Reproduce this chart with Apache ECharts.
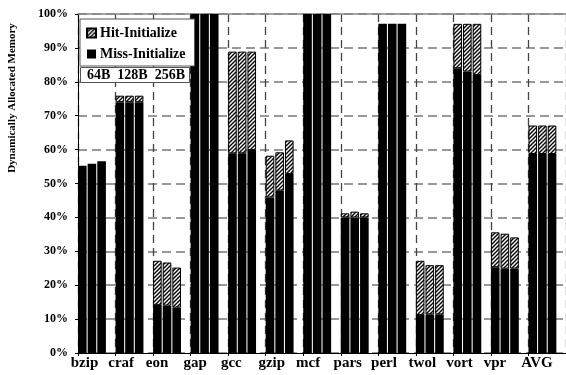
<!DOCTYPE html>
<html>
<head>
<meta charset="utf-8">
<script src="https://cdn.jsdelivr.net/npm/echarts@6/dist/echarts.min.js"></script>
<style>
html,body{margin:0;padding:0;background:#fff;}
#c{width:566px;height:375px;}
</style>
</head>
<body>
<div id="c"></div>
<script>
var categories = ['bzip','craf','eon','gap','gcc','gzip','mcf','pars','perl','twol','vort','vpr','AVG'];
var yTicks = [0,10,20,30,40,50,60,70,80,90,100];
var sizeLabels = ['64B','128B','256B'];
var miss64  = [55.2, 74.0, 14.2, 100, 58.9, 45.9, 100, 40.0, 97.1, 11.2, 84.0, 25.3, 58.7];
var hit64   = [null, 1.9, 13.0, null, 30.0, 12.3, null, 1.2, null, 16.0, 13.1, 10.3, 8.4];
var miss128 = [55.8, 74.0, 14.0, 100, 58.9, 47.9, 100, 40.0, 97.1, 11.4, 83.0, 24.9, 58.7];
var hit128  = [null, 1.9, 12.7, null, 30.0, 11.3, null, 1.7, null, 14.5, 14.1, 10.3, 8.4];
var miss256 = [56.6, 74.0, 13.4, 100, 59.9, 52.8, 100, 40.0, 97.1, 11.4, 82.0, 24.9, 58.7];
var hit256  = [null, 1.9, 11.8, null, 29.0, 9.9, null, 1.2, null, 14.5, 15.1, 9.2, 8.4];

var FONT = 'Liberation Serif';

// hatch pattern
var T = 4;
var pc = document.createElement('canvas');
pc.width = T; pc.height = T;
var g = pc.getContext('2d');
g.fillStyle = '#fff'; g.fillRect(0,0,T,T);
g.strokeStyle = '#000'; g.lineWidth = 1.4;
g.beginPath();
g.moveTo(-1,1); g.lineTo(1,-1);
g.moveTo(0,T); g.lineTo(T,0);
g.moveTo(T-1,T+1); g.lineTo(T+1,T-1);
g.stroke();
var hatch = {image: pc, repeat: 'repeat'};

function missSeries(data, stack){
  return {name:'Miss-Initialize', type:'bar', stack:stack, data:data,
    barGap:'12%', barCategoryGap:0,
    itemStyle:{color:'#000', borderColor:'#000', borderWidth:0},
    emphasis:{disabled:true}, animation:false};
}
function hitSeries(data, stack){
  return {name:'Hit-Initialize', type:'bar', stack:stack, data:data,
    itemStyle:{color:hatch, borderColor:'#000', borderWidth:1},
    emphasis:{disabled:true}, animation:false};
}
var dummy = categories.map(function(){return 0;});

var chart = echarts.init(document.getElementById('c'), null, {renderer:'canvas'});
chart.setOption({
  animation:false,
  backgroundColor:'#fff',
  grid:{left:78, top:14, right:-8.2, bottom:22, containLabel:false},
  legend:{
    data:['Hit-Initialize','Miss-Initialize'],
    orient:'vertical', left:80, top:19,
    padding:[7,9,5,6], itemGap:7, itemWidth:9, itemHeight:9,
    backgroundColor:'#fff', borderColor:'#555', borderWidth:1,
    icon:'rect', selectedMode:false, z:10,
    textStyle:{fontFamily:FONT, fontWeight:'bold', fontSize:14, color:'#000', padding:[0,0,0,-1]}
  },
  xAxis:[{
    type:'category', data:categories, position:'bottom',
    axisLine:{show:true, lineStyle:{color:'#000', width:1}},
    axisTick:{show:true, inside:false, length:3, interval:0, lineStyle:{color:'#000'}},
    splitLine:{show:true, interval:0, lineStyle:{color:'#444', width:1.3, type:[8,5]}},
    axisLabel:{interval:0, margin:3, fontFamily:FONT, fontWeight:'bold', fontSize:15, color:'#000',
      formatter:function(v){return '{a|'+v+'}';},
      rich:{a:{width:52, align:'left', fontFamily:FONT, fontWeight:'bold', fontSize:15, color:'#000'}}}
  },{
    type:'category', data:categories, position:'top',
    axisLine:{show:true, lineStyle:{color:'#888', width:1.5}},
    axisTick:{show:false}, axisLabel:{show:false}, splitLine:{show:false}
  }],
  yAxis:{
    type:'value', min:0, max:100, interval:10,
    axisLine:{show:true, lineStyle:{color:'#000', width:1}},
    axisTick:{show:true, inside:false, length:3, lineStyle:{color:'#000'}},
    splitLine:{show:true, lineStyle:{color:'#777', width:1.6, type:[9,5]}},
    axisLabel:{margin:10, fontFamily:FONT, fontWeight:'bold', fontSize:12, color:'#000',
      formatter:function(v){return yTicks.indexOf(v)>=0 ? v+'%' : '';}}
  },
  graphic:[
    {type:'text', x:12, y:98, rotation:Math.PI/2, z:20,
      style:{text:'Dynamically Allocated Memory', font:'bold 11px "Liberation Serif"', fill:'#000',
        textAlign:'center', textVerticalAlign:'middle'}},
    {type:'rect', z:20, shape:{x:80.5, y:67.5, width:109, height:15},
      style:{fill:'#fff', stroke:'#555', lineWidth:1}},
    {type:'text', x:87, y:75.5, z:21,
      style:{text:sizeLabels.join('  '), font:'bold 14px "Liberation Serif"', fill:'#000',
        textAlign:'left', textVerticalAlign:'middle'}}
  ],
  series:[
    missSeries(miss64,'s1'), hitSeries(hit64,'s1'),
    missSeries(miss128,'s2'), hitSeries(hit128,'s2'),
    missSeries(miss256,'s3'), hitSeries(hit256,'s3'),
    {name:'pad', type:'bar', stack:'s4', data:dummy, itemStyle:{color:'rgba(0,0,0,0)'}, silent:true, animation:false}
  ]
});
</script>
</body>
</html>
